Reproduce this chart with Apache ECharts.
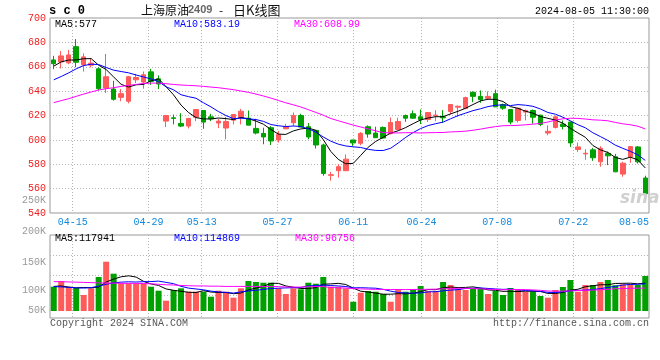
<!DOCTYPE html>
<html><head><meta charset="utf-8">
<script src="https://cdn.jsdelivr.net/npm/echarts/dist/echarts.min.js"></script>
<style>html,body{margin:0;padding:0;background:#fff}#c{width:660px;height:360px}</style>
</head><body><div id="c"></div>
<script>
// ---------------- data ----------------
const dates = ['04-10','04-11','04-12','04-15','04-16','04-17','04-18','04-19','04-22','04-23','04-24','04-25','04-26','04-29','04-30',
'05-06','05-07','05-08','05-09','05-10','05-13','05-14','05-15','05-16','05-17','05-20','05-21','05-22','05-23','05-24',
'05-27','05-28','05-29','05-30','05-31','06-03','06-04','06-05','06-06','06-07','06-11','06-12','06-13','06-14',
'06-17','06-18','06-19','06-20','06-21','06-24','06-25','06-26','06-27','06-28','07-01','07-02','07-03','07-04','07-05',
'07-08','07-09','07-10','07-11','07-12','07-15','07-16','07-17','07-18','07-19','07-22','07-23','07-24','07-25','07-26',
'07-29','07-30','07-31','08-01','08-02','08-05'];
const openP = [665.6,664.0,663.2,676.5,661.5,661.3,658.3,642.5,641.7,634.9,631.7,649.3,647.4,655.8,650.1,
615.4,618.1,613.5,611.3,618.6,624.1,618.9,613.8,609.7,616.2,618.6,617.8,609.4,605.3,610.0,
599.9,609.1,614.0,620.0,610.8,607.8,595.8,570.9,574.7,574.7,599.9,597.2,610.8,605.6,
610.2,605.1,608.6,620.0,621.4,618.9,616.7,619.8,618.9,623.3,626.8,625.7,639.0,635.7,634.1,
637.9,629.0,624.9,615.9,622.8,624.1,620.3,605.6,610.2,612.9,614.6,592.1,588.5,591.8,582.0,
589.0,586.1,571.9,586.1,594.2,568.7];
const closeP = [662.5,668.9,669.7,663.7,668.1,662.9,642.0,651.8,633.3,637.9,651.8,651.2,653.4,648.0,645.8,
620.0,617.6,611.3,617.6,624.9,614.6,617.3,615.4,615.1,620.8,623.5,612.1,605.6,602.4,599.1,
604.5,610.8,620.0,610.5,602.4,595.8,572.5,571.4,578.0,584.2,597.5,605.3,604.8,601.8,
601.5,614.3,615.1,617.8,617.8,616.7,622.4,620.3,618.1,629.0,627.6,634.7,635.7,633.0,635.7,
627.1,626.0,614.6,626.0,624.1,618.6,612.7,607.0,618.9,611.0,597.5,594.2,589.0,585.3,593.1,
586.9,573.8,580.9,594.5,582.0,555.7];
const lowP = [658.0,658.6,662.1,659.6,656.1,659.4,640.6,638.5,632.2,631.7,630.0,646.6,642.0,645.2,641.7,
610.5,612.7,610.5,609.4,615.4,609.1,615.4,609.7,600.5,612.7,612.7,612.0,604.5,596.4,595.8,
597.8,608.8,611.3,610.5,600.5,592.9,570.6,566.5,569.0,574.5,595.1,595.6,601.8,601.5,
601.0,604.5,608.0,614.8,617.5,613.0,614.8,615.4,614.0,620.8,618.9,625.4,630.9,630.4,633.0,
627.0,624.7,612.7,614.3,616.0,613.3,611.3,603.8,609.4,608.6,594.2,590.2,583.7,582.8,578.0,
579.3,573.5,569.8,581.2,580.6,550.8];
const highP = [669.0,672.9,673.8,682.7,671.0,667.0,659.6,670.5,648.5,641.7,652.5,654.2,656.1,658.3,652.9,
620.3,620.8,621.9,618.0,625.2,624.5,621.4,617.3,618.9,621.0,625.4,624.1,617.3,610.0,611.3,
607.2,613.2,622.5,621.4,613.8,608.0,596.9,573.8,580.1,588.0,600.0,606.4,611.9,610.8,
611.0,618.4,618.1,620.8,624.1,624.9,622.6,624.4,624.4,629.2,628.2,635.5,639.8,640.6,639.8,
641.2,629.8,625.1,626.2,624.9,624.9,620.5,611.9,620.0,615.9,615.0,597.8,592.3,593.4,594.8,
590.4,588.5,582.0,594.8,595.0,570.6];
const ma5 = [660.5,664.0,665.5,665.6,666.58,666.66,661.28,657.70,651.62,645.58,643.36,645.20,645.52,648.46,650.04,
643.68,636.96,628.54,622.46,618.28,617.20,617.14,617.96,617.46,616.64,618.42,617.38,615.42,612.88,608.54,
604.74,604.48,607.36,608.98,609.64,607.90,600.24,590.52,584.02,580.38,580.72,587.28,593.96,598.72,
602.18,605.54,607.50,610.10,613.30,616.34,617.96,619.00,619.06,621.30,623.48,625.94,629.02,632.00,633.34,
633.24,631.50,627.28,625.88,623.56,621.86,619.20,617.68,616.26,613.64,609.42,605.72,602.12,595.40,591.82,
589.70,585.62,584.00,585.84,583.62,577.00];
const ma10 = [649.3,652.0,655.0,658.3,661.0,662.1,661.8,659.4,657.2,656.08,655.01,653.24,651.61,650.04,647.81,
643.52,641.08,637.03,635.46,634.16,630.44,627.05,623.25,619.96,617.46,617.81,617.26,616.69,615.17,612.59,
611.58,610.93,611.39,610.93,609.09,606.32,602.36,598.94,596.50,595.01,594.31,593.76,592.24,591.37,
591.28,593.13,597.39,602.03,606.01,609.26,611.75,613.25,614.58,617.30,619.91,621.95,624.01,625.53,627.32,
628.36,628.72,628.15,628.94,628.45,627.55,625.35,622.48,621.07,618.60,615.64,612.46,609.90,605.83,602.73,
599.56,595.67,593.06,590.62,587.72,583.19];
const ma30 = [630.6,632.2,633.8,635.7,637.6,639.3,640.9,642.0,642.8,643.9,644.7,645.5,646.3,646.6,646.6,
646.1,645.5,645.0,644.7,644.4,643.9,643.3,642.8,642.0,641.2,640.1,639.0,637.6,636.0,634.28,
632.34,630.41,628.75,626.98,624.79,622.55,620.23,617.55,615.71,613.92,612.11,610.58,608.96,607.42,
605.94,605.75,605.67,605.89,605.89,605.62,605.88,605.98,606.07,606.53,606.76,607.13,607.92,608.83,609.94,
610.88,611.59,611.72,611.92,612.37,612.91,613.48,614.63,616.21,617.31,617.75,617.64,617.10,616.45,616.16,
615.67,614.32,613.18,612.41,611.21,608.99];
// volume in thousands (lots)
const volume = [102.8,126.9,102.8,97.3,67.7,96.0,143.8,208.5,157.8,117.2,117.2,117.2,117.2,102.8,85.9,
43.6,88.8,96.0,81.6,81.6,81.6,60.5,85.9,81.6,56.3,96.0,126.9,122.7,119.7,119.7,
96.0,71.9,96.0,91.8,119.7,115.5,143.8,102.8,102.8,96.0,39.3,77.4,84.6,81.6,
71.9,39.3,88.8,81.6,93.1,105.8,84.6,84.6,122.7,110.0,93.1,88.8,96.0,96.0,71.9,
84.6,67.7,97.3,88.8,81.6,81.6,63.5,56.3,88.8,101.5,131.1,81.6,110.0,110.0,122.7,
131.1,108.7,112.9,112.9,110.0,148.1];
const volMa5 = [104,106,101,98,99.5,98.1,101.5,122.7,134.8,144.7,148.9,143.6,125.3,114.3,108.1,
93.3,87.7,83.4,79.2,78.3,85.9,80.3,78.2,78.2,73.2,76.1,89.3,96.7,104.3,117.0,
117.0,106.0,100.7,95.1,95.1,99.0,113.4,114.7,116.9,112.2,96.9,83.7,80.0,75.8,
71.0,71.0,73.2,72.6,74.9,81.7,90.8,89.9,98.2,101.5,99.0,99.8,102.1,96.8,89.2,
87.5,83.2,83.5,82.1,84.0,83.4,82.6,74.4,74.4,78.3,88.2,91.9,102.6,106.8,111.1,
111.1,116.5,117.1,117.7,115.1,117.9];
const volMa10 = [103,102,100,98,97,99,105,113,119,122.1,123.5,122.6,124.0,124.5,126.4,
121.1,115.6,104.4,96.8,93.2,89.6,84.0,80.8,78.7,75.8,81.0,84.8,87.5,91.3,95.1,
96.5,97.7,98.7,99.7,106.0,108.0,109.7,107.7,106.0,103.6,98.0,98.5,97.4,96.4,
91.6,84.0,78.5,76.3,75.4,76.3,80.9,81.6,85.4,88.2,90.4,95.3,96.0,97.5,95.4,
93.2,91.5,92.8,89.4,86.6,85.4,82.9,78.9,78.2,81.2,85.8,87.2,88.5,90.6,94.7,
99.7,104.2,109.8,112.3,113.1,114.9];
const volMa30 = [124,124,123,122,121,120,119,118,118,117,117,117,116,115,113,
111,110,108,107,106,106,105,105,104,104,104,104,104,104,103.5,
103.2,101.4,101.2,101.0,102.7,103.4,103.4,99.8,98.0,97.3,94.7,93.4,92.3,91.6,
91.1,91.0,91.0,90.5,90.9,91.7,91.8,92.6,93.8,94.8,96.0,95.8,94.7,93.8,92.2,
91.1,90.1,91.0,90.7,90.4,89.1,87.4,84.5,84.0,84.0,85.1,86.5,87.6,88.5,89.8,
91.8,94.1,94.9,96.0,96.5,96.8];
const dateTickLabels = ['04-15','04-29','05-13','05-27','06-11','06-24','07-08','07-22','08-05'];
const volTickLabels = ['250K','200K','150K','100K','50K'];
const priceMaText = ['MA5:577','MA10:583.19','MA30:608.99'];
const volMaText = ['MA5:117941','MA10:114869','MA30:96756'];
const titleParts = ['上海原油','2409','-','日K线图'];
const symbolText = 's c 0';
const timeText = '2024-08-05 11:30:00';
const copyText = 'Copyright 2024 SINA.COM';
const urlText = 'http://finance.sina.com.cn';

// ---------------- chart ----------------
const RED = '#ff5b5b', GREEN = '#00a000';
const MONO = '"Liberation Mono","DejaVu Sans Mono",monospace';
const dotted = {color:'#b4b4b4', width:1, type:[1,2]};
const labelSet = new Set(dateTickLabels);
const lastIdx = dates.length - 1;
const kData = dates.map((d,i)=>[openP[i], closeP[i], lowP[i], highP[i]]);
const volData = volume.map((v,i)=>({value:v, itemStyle:{color: closeP[i] > openP[i] ? RED : GREEN}}));

function txt(text, x, y, fill, font, align){
  return {type:'text', x:x, y:y, silent:true, z:100,
    style:{text:text, fill:fill, font:font, align:align||'left', verticalAlign:'middle',
           textAlign:align||'left', textVerticalAlign:'middle'}};
}
const volLabelY = [200, 231, 262, 290, 310];
const graphics = [
  txt(symbolText, 49, 11, '#000', 'bold 12px ' + MONO),
  txt(titleParts[0], 141, 10, '#111', '12px "Noto Sans CJK SC"'),
  txt(titleParts[1], 188, 10, '#666', 'bold 11px "Liberation Sans"'),
  txt(titleParts[2], 219, 10, '#111', '12px "Noto Sans CJK SC"'),
  txt(titleParts[3], 233, 10, '#111', '13px "Noto Sans CJK SC"'),
  txt(timeText, 649, 11, '#000', '10px ' + MONO, 'right'),
  txt(priceMaText[0], 55, 24, '#000', '10px ' + MONO),
  txt(priceMaText[1], 174, 24, '#0000ff', '10px ' + MONO),
  txt(priceMaText[2], 294, 24, '#ff00ff', '10px ' + MONO),
  txt(volMaText[0], 55, 238, '#000', '10px ' + MONO),
  txt(volMaText[1], 174, 238, '#0000ff', '10px ' + MONO),
  txt(volMaText[2], 295, 238, '#ff00ff', '10px ' + MONO),
  txt(copyText, 50, 323, '#555', '10px ' + MONO),
  txt(urlText, 649, 323, '#555', '10px ' + MONO, 'right'),
  txt('sina', 620, 199, '#d0d0d0', 'italic bold 17px "DejaVu Sans"')
];
volTickLabels.forEach((t,i)=>graphics.push(txt(t, 46, volLabelY[i], '#999', '10px ' + MONO, 'right')));

const lineS = (data, color, xi, yi) => ({type:'line', xAxisIndex:xi, yAxisIndex:yi, data:data, symbol:'none',
  showSymbol:false, silent:true, z:5, lineStyle:{color:color, width:1}});

const option = {
  animation:false,
  backgroundColor:'#fff',
  grid:[
    {left:50, right:11, top:18, height:195, show:true, borderColor:'#999', borderWidth:1},
    {left:50, right:11, top:235, height:76, show:false},
    {left:50, right:11, top:235, height:83, show:true, borderColor:'#999', borderWidth:1}
  ],
  xAxis:[
    {type:'category', gridIndex:0, data:dates, boundaryGap:true, show:false, position:'top'},
    {type:'category', gridIndex:0, data:dates, boundaryGap:false, position:'bottom',
      axisLine:{show:false}, axisTick:{show:false},
      axisLabel:{interval:(i,v)=>labelSet.has(v), color:'#1188dd', fontFamily:MONO, fontSize:10, margin:4,
        alignMaxLabel:'right', showMaxLabel:true},
      splitLine:{show:true, interval:(i,v)=>labelSet.has(v) && i < lastIdx, lineStyle:dotted}},
    {type:'category', gridIndex:1, data:dates, boundaryGap:true, show:false},
    {type:'category', gridIndex:2, data:dates, boundaryGap:false,
      axisLine:{show:false}, axisTick:{show:false}, axisLabel:{show:false},
      splitLine:{show:true, interval:(i,v)=>labelSet.has(v) && i < lastIdx, lineStyle:dotted}}
  ],
  yAxis:[
    {type:'value', gridIndex:0, min:540, max:700, interval:20, axisLine:{show:false}, axisTick:{show:false},
      axisLabel:{color:'#ee1c1c', fontFamily:MONO, fontSize:10, margin:4},
      splitLine:{show:true, lineStyle:dotted, showMinLine:false, showMaxLine:false}},
    {type:'value', gridIndex:1, min:0, max:321.5, show:false},
    {type:'value', gridIndex:1, min:0, max:76, interval:20, inverse:true, axisLine:{show:false},
      axisTick:{show:false}, axisLabel:{show:false},
      splitLine:{show:true, lineStyle:dotted, showMinLine:false, showMaxLine:false}},
    {type:'value', gridIndex:2, min:0, max:1, show:false}
  ],
  graphic:graphics,
  series:[
    {type:'candlestick', xAxisIndex:0, yAxisIndex:0, data:kData, barWidth:5, silent:true,
      itemStyle:{color:RED, color0:GREEN, borderColor:RED, borderColor0:GREEN, borderWidth:1}},
    lineS(ma5, '#000000', 0, 0),
    lineS(ma10, '#0000ff', 0, 0),
    lineS(ma30, '#ff00ff', 0, 0),
    {type:'bar', xAxisIndex:2, yAxisIndex:1, data:volData, barWidth:6, silent:true},
    lineS(volMa5, '#000000', 2, 1),
    lineS(volMa10, '#0000ff', 2, 1),
    lineS(volMa30, '#ff00ff', 2, 1)
  ]
};
const chart = echarts.init(document.getElementById('c'), null, {renderer:'canvas'});
chart.setOption(option);
</script>
</body></html>
